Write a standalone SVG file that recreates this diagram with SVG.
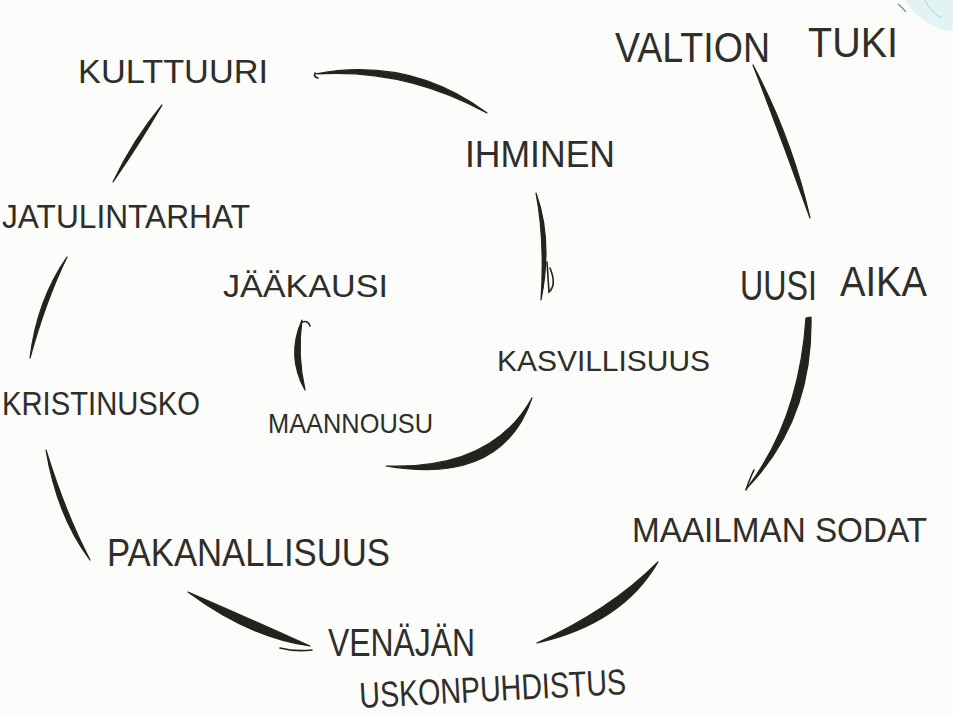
<svg xmlns="http://www.w3.org/2000/svg" width="953" height="716" viewBox="0 0 953 716">
  <style>
    .lbl { font-family: "Liberation Sans", "DejaVu Sans", sans-serif; fill: #2e2e2a; }
    .ink { fill: #22241c; stroke: #22241c; stroke-width: 1.2; stroke-linejoin: round; }
    .line { fill: none; stroke: #22241c; stroke-width: 1.6; stroke-linecap: round; }
  </style>
  <rect width="953" height="716" fill="#fcfcfa"/>
  <!-- faint watercolour in top-right corner -->
  <path d="M905,0 Q915,18 938,28 Q948,32 953,30 L953,0 Z" fill="#e2f3f3"/>
  <path d="M925,0 Q930,12 942,18" fill="none" stroke="#a9d2d4" stroke-width="1"/>
  <path d="M898,4 Q903,8 906,12" fill="none" stroke="#6f8f92" stroke-width="1.2"/>

  <g id="connectors">
    <!-- KULTTUURI -> IHMINEN -->
    <path class="ink" d="M315,74 Q410,56 487,113 Q405,68 315,74 Z"/>
    <path class="line" d="M315,73 Q313,77 318,78"/>
    <!-- JATULINTARHAT -> KULTTUURI -->
    <path class="ink" d="M162,105 Q133,140 113,182 Q140,143 162,105 Z"/>
    <!-- IHMINEN -> KASVILLISUUS -->
    <path class="ink" d="M536,193 Q553,240 541,300 Q545,240 536,193 Z"/>
    <path class="line" d="M547,262 L549,292 Q557,285 550,268"/>
    <!-- KASVILLISUUS -> MAANNOUSU -->
    <path class="ink" d="M532,398 Q502,486 386,466 Q492,470 532,398 Z"/>
    <path class="line" d="M520,420 Q505,440 492,448"/>
    <!-- MAANNOUSU -> JÄÄKAUSI -->
    <path class="ink" d="M302,320 Q286,356 305,390 Q297,355 302,320 Z"/>
    <path class="line" d="M302,322 Q308,320 310,326"/>
    <!-- VALTION TUKI -> UUSI AIKA -->
    <path class="ink" d="M753,65 Q792,138 810,218 Q782,140 753,65 Z"/>
    <!-- UUSI AIKA -> MAAILMAN SODAT -->
    <path class="ink" d="M811,317 Q813,420 747,488 Q799,420 806,318 Z"/>
    <path class="line" d="M754,470 Q750,478 746,490"/>
    <!-- MAAILMAN SODAT -> VENÄJÄN -->
    <path class="ink" d="M658,562 Q622,624 537,643 Q610,610 658,562 Z"/>
    <!-- VENÄJÄN -> PAKANALLISUUS -->
    <path class="ink" d="M188,592 Q250,638 310,646 Q248,618 188,592 Z"/>
    <path class="line" d="M280,648 Q295,652 312,650"/>
    <!-- PAKANALLISUUS -> KRISTINUSKO -->
    <path class="ink" d="M46,450 Q57,516 90,560 Q65,512 46,450 Z"/>
    <!-- KRISTINUSKO -> JATULINTARHAT -->
    <path class="ink" d="M67,257 Q37,300 30,358 Q46,300 67,257 Z"/>
  </g>

  <g id="kulttuuri"><text class="lbl" x="78" y="83" font-size="34" textLength="190" lengthAdjust="spacingAndGlyphs">KULTTUURI</text></g>
  <g id="ihminen"><text class="lbl" x="465" y="167" font-size="36" textLength="150" lengthAdjust="spacingAndGlyphs">IHMINEN</text></g>
  <g id="valtion-tuki">
    <text class="lbl" x="615" y="62" font-size="42" textLength="155" lengthAdjust="spacingAndGlyphs">VALTION</text>
    <text class="lbl" x="808" y="57" font-size="42" textLength="90" lengthAdjust="spacingAndGlyphs">TUKI</text>
  </g>
  <g id="jatulintarhat"><text class="lbl" x="2" y="228" font-size="34" textLength="248" lengthAdjust="spacingAndGlyphs">JATULINTARHAT</text></g>
  <g id="jaakausi"><text class="lbl" x="223" y="297" font-size="32" textLength="165" lengthAdjust="spacingAndGlyphs">JÄÄKAUSI</text></g>
  <g id="uusi-aika">
    <text class="lbl" x="740" y="300" font-size="42" textLength="77" lengthAdjust="spacingAndGlyphs">UUSI</text>
    <text class="lbl" x="840" y="296" font-size="42" textLength="87" lengthAdjust="spacingAndGlyphs">AIKA</text>
  </g>
  <g id="kasvillisuus"><text class="lbl" x="497" y="371" font-size="30" textLength="213" lengthAdjust="spacingAndGlyphs">KASVILLISUUS</text></g>
  <g id="kristinusko"><text class="lbl" x="2" y="415" font-size="34" textLength="198" lengthAdjust="spacingAndGlyphs">KRISTINUSKO</text></g>
  <g id="maannousu"><text class="lbl" x="268" y="433" font-size="28" textLength="165" lengthAdjust="spacingAndGlyphs">MAANNOUSU</text></g>
  <g id="pakanallisuus"><text class="lbl" x="107" y="566" font-size="38" textLength="283" lengthAdjust="spacingAndGlyphs">PAKANALLISUUS</text></g>
  <g id="maailman-sodat">
    <text class="lbl" x="632" y="542" font-size="35" textLength="295" lengthAdjust="spacingAndGlyphs">MAAILMAN SODAT</text>
  </g>
  <g id="venajan-uskonpuhdistus">
    <text class="lbl" x="328" y="656" font-size="38" textLength="147" lengthAdjust="spacingAndGlyphs">VENÄJÄN</text>
    <text class="lbl" x="360" y="708" font-size="36" textLength="267" lengthAdjust="spacingAndGlyphs" transform="rotate(-3 360 708)">USKONPUHDISTUS</text>
  </g>
</svg>
